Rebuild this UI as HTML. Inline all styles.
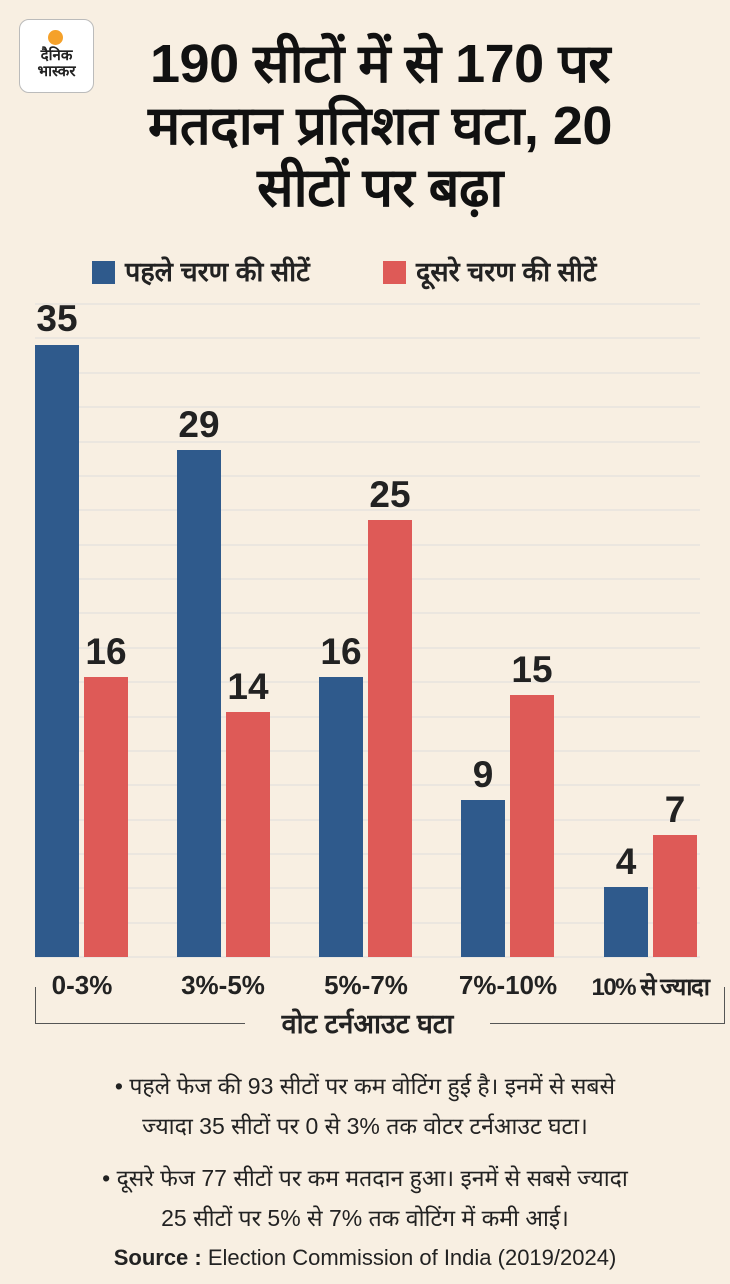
<!DOCTYPE html><html><head><meta charset="utf-8"><style>
body{margin:0;width:730px;height:1284px;background:#f8efe2;font-family:"Liberation Sans","Noto Sans CJK SC",sans-serif;position:relative;overflow:hidden;color:#222}
.a{position:absolute}
.t{font-weight:bold;font-size:54px;line-height:62px;text-align:center;color:#111;left:65px;width:630px;top:33px;letter-spacing:-0.5px}
.g{position:absolute;left:35px;width:665px;height:2px;background:#ebe6df}
.b{position:absolute;width:44px}
.bl{background:#2f5a8c}.rd{background:#de5a57}
.v{position:absolute;width:70px;text-align:center;font-weight:bold;font-size:37px;color:#222}
.x{position:absolute;top:970px;font-weight:bold;font-size:26px;width:130px;text-align:center}
.n{position:absolute;left:0;width:730px;text-align:center;font-size:23px;line-height:40px}
</style></head><body>
<div class="a" style="left:19px;top:19px;width:73px;height:72px;background:#fff;border:1px solid #bbb;border-radius:10px"></div>
<div class="a" style="left:48px;top:30px;width:15px;height:15px;border-radius:50%;background:#f5a12a"></div>
<div class="a" style="left:19px;top:48px;width:75px;text-align:center;font-size:15px;font-weight:bold;line-height:16px">दैनिक<br>भास्कर</div>
<div class="a t">190 सीटों में से 170 पर<br>मतदान प्रतिशत घटा, 20<br>सीटों पर बढ़ा</div>
<div class="a bl" style="left:92px;top:261px;width:23px;height:23px"></div>
<div class="a" style="left:125px;top:252px;font-size:27px;font-weight:bold">पहले चरण की सीटें</div>
<div class="a rd" style="left:383px;top:261px;width:23px;height:23px"></div>
<div class="a" style="left:416px;top:252px;font-size:27px;font-weight:bold">दूसरे चरण की सीटें</div>
<div class="g" style="top:303px"></div><div class="g" style="top:337px"></div><div class="g" style="top:372px"></div><div class="g" style="top:406px"></div><div class="g" style="top:441px"></div><div class="g" style="top:475px"></div><div class="g" style="top:509px"></div><div class="g" style="top:544px"></div><div class="g" style="top:578px"></div><div class="g" style="top:612px"></div><div class="g" style="top:647px"></div><div class="g" style="top:681px"></div><div class="g" style="top:716px"></div><div class="g" style="top:750px"></div><div class="g" style="top:784px"></div><div class="g" style="top:819px"></div><div class="g" style="top:853px"></div><div class="g" style="top:887px"></div><div class="g" style="top:922px"></div><div class="g" style="top:956px"></div>
<div class="b bl" style="left:35px;top:345px;height:612px"></div>
<div class="b rd" style="left:84px;top:677px;height:280px"></div>
<div class="b bl" style="left:177px;top:450px;height:507px"></div>
<div class="b rd" style="left:226px;top:712px;height:245px"></div>
<div class="b bl" style="left:319px;top:677px;height:280px"></div>
<div class="b rd" style="left:368px;top:520px;height:437px"></div>
<div class="b bl" style="left:461px;top:800px;height:157px"></div>
<div class="b rd" style="left:510px;top:695px;height:262px"></div>
<div class="b bl" style="left:604px;top:887px;height:70px"></div>
<div class="b rd" style="left:653px;top:835px;height:122px"></div>
<div class="v" style="left:22px;top:298px">35</div>
<div class="v" style="left:71px;top:631px">16</div>
<div class="v" style="left:164px;top:404px">29</div>
<div class="v" style="left:213px;top:666px">14</div>
<div class="v" style="left:306px;top:631px">16</div>
<div class="v" style="left:355px;top:474px">25</div>
<div class="v" style="left:448px;top:754px">9</div>
<div class="v" style="left:497px;top:649px">15</div>
<div class="v" style="left:591px;top:841px">4</div>
<div class="v" style="left:640px;top:789px">7</div>
<div class="x" style="left:17px">0-3%</div>
<div class="x" style="left:158px">3%-5%</div>
<div class="x" style="left:301px">5%-7%</div>
<div class="x" style="left:443px">7%-10%</div>
<div class="x" style="left:585px;font-size:24px;letter-spacing:-1.5px">10% से ज्यादा</div>
<div class="a" style="left:35px;top:987px;width:1px;height:36px;background:#555"></div>
<div class="a" style="left:724px;top:987px;width:1px;height:36px;background:#555"></div>
<div class="a" style="left:35px;top:1023px;width:210px;height:1px;background:#555"></div>
<div class="a" style="left:490px;top:1023px;width:235px;height:1px;background:#555"></div>
<div class="a" style="left:235px;top:1004px;width:265px;text-align:center;font-size:27px;font-weight:bold">वोट टर्नआउट घटा</div>
<div class="n" style="top:1066px">• पहले फेज की 93 सीटों पर कम वोटिंग हुई है। इनमें से सबसे<br>ज्यादा 35 सीटों पर 0 से 3% तक वोटर टर्नआउट घटा।</div>
<div class="n" style="top:1158px">• दूसरे फेज 77 सीटों पर कम मतदान हुआ। इनमें से सबसे ज्यादा<br>25 सीटों पर 5% से 7% तक वोटिंग में कमी आई।</div>
<div class="n" style="top:1238px;font-size:22px"><b>Source :</b> Election Commission of India (2019/2024)</div>
</body></html>
